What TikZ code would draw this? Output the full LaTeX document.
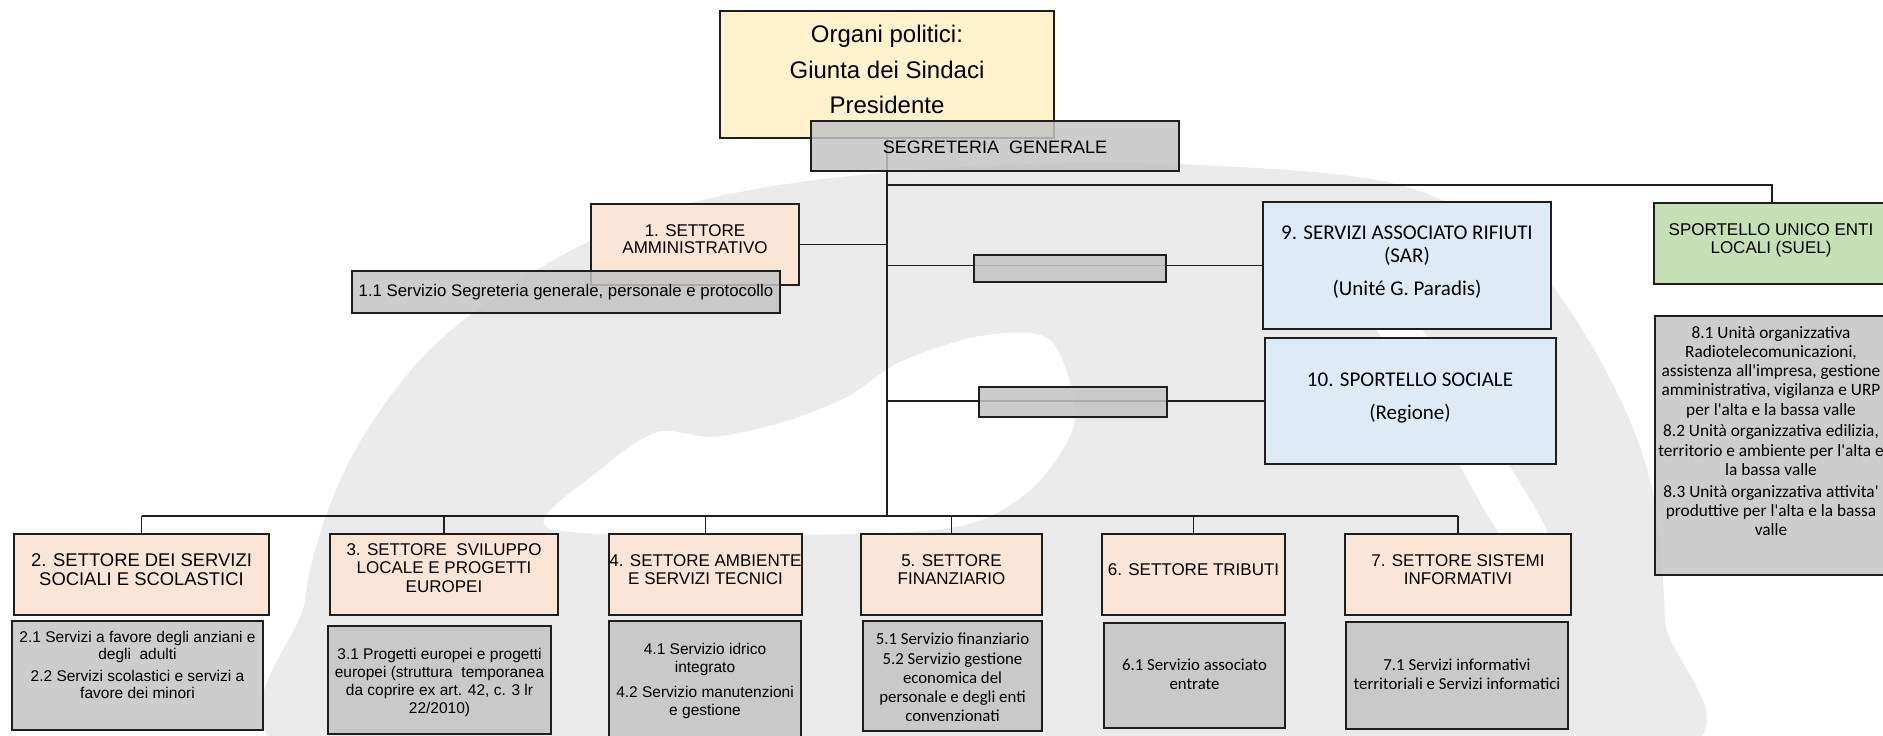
\documentclass[tikz,border=0pt]{standalone}
\usepackage{fontspec}
\setmainfont{Liberation Sans}
\newfontfamily\calib[Ligatures=TeXOff]{Carlito}
\usetikzlibrary{fit}
\pgfdeclarelayer{wm}
\pgfdeclarelayer{bg}
\pgfsetlayers{wm,bg,main}
\definecolor{peach}{RGB}{251,229,214}
\definecolor{ylw}{RGB}{255,242,204}
\definecolor{lblue}{RGB}{222,235,247}
\definecolor{lgreen}{RGB}{197,224,180}
\definecolor{gbox}{RGB}{196,196,196}
\definecolor{wmark}{RGB}{235,235,235}
\definecolor{edge}{RGB}{30,30,30}
\newcommand\fsz[2]{\fontsize{#1}{#2}\selectfont}
\tikzset{
 box/.style={draw=edge, line width=0.8pt, inner sep=0pt, outer sep=0pt},
 pbox/.style={box, fill=peach},
 gbx/.style={box, fill=gbox, fill opacity=0.85},
 conn/.style={draw=edge, line width=0.7pt},
 txt/.style={inner sep=0pt, align=center, text=black},
 head/.style={txt, font=\fsz{8.5}{9.25}},
 subA/.style={txt, font=\fsz{7.75}{8.6}},
 subC/.style={txt, font=\calib\fsz{8.4}{9.6}},
}
\begin{document}
\begin{tikzpicture}[x=0.5pt,y=-0.5pt]
\clip (0,0) rectangle (1883,735);

% watermark
\begin{pgfonlayer}{wm}
\fill[wmark] plot[smooth cycle, tension=0.55] coordinates {(310,760) (305,600) (345,470) (420,360) (520,280) (650,215) (800,182) (1000,165) (1200,165) (1400,185) (1520,250) (1600,360) (1650,480) (1665,620) (1660,760) (1000,790)};
\fill[white] plot[smooth cycle, tension=0.5] coordinates {(548,528) (600,470) (657,432) (713,437) (780,423) (847,397) (900,362) (980,336) (1050,340) (1075,420) (1030,490) (950,528) (750,535)};
\fill[white] plot[smooth cycle, tension=0.5] coordinates {(1372,318) (1415,322) (1480,420) (1548,535) (1505,540) (1440,430)};
\end{pgfonlayer}

% top
\node[box, fill=ylw, fit={(720,11) (1054,138)}] (org) {};
\node[txt, font=\fsz{12}{17.75}] (org-t) at (887,69.5) {Organi politici:\\Giunta dei Sindaci\\Presidente};
\node[gbx, fit={(811,121) (1179,171)}] (seg) {};
\node[txt, font=\fsz{9}{10}] (seg-t) at (995,147) {SEGRETERIA\ \ GENERALE};

% settore 1
\node[pbox, fit={(591,204) (799,285)}] (s1) {};
\node[head, font=\fsz{8.5}{8.7}] (s1-t) at (695,239) {1. SETTORE\\AMMINISTRATIVO};
\node[gbx, fit={(352,271) (780,313)}] (g1) {};
\node[txt, font=\fsz{8.4}{9}] (g1-t) at (566,292) {1.1 Servizio Segreteria generale, personale e protocollo};

% 9 and 10
\node[gbx, fit={(974,255) (1166,282)}] (g9a) {};
\node[gbx, fit={(979,387) (1167,417)}] (g10a) {};
\node[box, fill=lblue, fit={(1263,202) (1551,329)}] (b9) {};
\node[txt, font=\calib\fsz{10.5}{11.3}] (b9-t) at (1407,262) {9. SERVIZI ASSOCIATO RIFIUTI\\(SAR)\\[5.2pt](Unité G. Paradis)};
\node[box, fill=lblue, fit={(1265,338) (1556,464)}] (b10) {};
\node[txt, font=\calib\fsz{10.5}{11.3}] (b10-t) at (1410,398) {10. SPORTELLO SOCIALE\\[5.2pt](Regione)};

% SUEL
\node[box, fill=lgreen, fit={(1654,203) (1890,284)}] (suel) {};
\node[txt, font=\fsz{8.5}{9.15}] (suel-t) at (1771,240) {SPORTELLO UNICO ENTI\\LOCALI (SUEL)};
\node[gbx, fit={(1655,316) (1890,575)}] (g8) {};
\node[txt, font=\calib\fsz{8.65}{9.6}] (g8-t) at (1771,431) {8.1 Unità organizzativa\\Radiotelecomunicazioni,\\assistenza all'impresa, gestione\\amministrativa, vigilanza e URP\\per l'alta e la bassa valle\\[1.3pt]8.2 Unità organizzativa edilizia,\\territorio e ambiente per l'alta e\\la bassa valle\\[1.3pt]8.3 Unità organizzativa attivita'\\produttive per l'alta e la bassa\\valle};

% bottom row headings
\node[pbox, fit={(14,534) (269,615)}] (s2) {};
\node[head, font=\fsz{9.2}{9.4}] (s2-t) at (141.5,569.5) {2. SETTORE DEI SERVIZI\\SOCIALI E SCOLASTICI};
\node[pbox, fit={(330,534) (558,615)}] (s3) {};
\node[head] (s3-t) at (444,568) {3. SETTORE\ \ SVILUPPO\\LOCALE E PROGETTI\\EUROPEI};
\node[pbox, fit={(609,534) (802,615)}] (s4) {};
\node[head] (s4-t) at (705.5,569.5) {4. SETTORE AMBIENTE\\E SERVIZI TECNICI};
\node[pbox, fit={(861,534) (1042,615)}] (s5) {};
\node[head] (s5-t) at (951.5,569.5) {5. SETTORE\\FINANZIARIO};
\node[pbox, fit={(1102,534) (1285,615)}] (s6) {};
\node[head] (s6-t) at (1193.5,570) {6. SETTORE TRIBUTI};
\node[pbox, fit={(1345,534) (1571,615)}] (s7) {};
\node[head] (s7-t) at (1458,569.5) {7. SETTORE SISTEMI\\INFORMATIVI};

% bottom row sub-boxes
\node[gbx, fit={(12,621) (263,730)}] (g2) {};
\node[subA, font=\fsz{7.75}{8.4}] (g2-t) at (137.5,665) {2.1 Servizi a favore degli anziani e\\degli\ \ adulti\\[2.4pt]2.2 Servizi scolastici e servizi a\\favore dei minori};
\node[gbx, fit={(328,626) (551,734)}] (g3) {};
\node[subA, font=\fsz{7.75}{9}] (g3-t) at (439.5,682.5) {3.1 Progetti europei e progetti\\europei (struttura\ \ temporanea\\da coprire ex art. 42, c. 3 lr\\22/2010)};
\node[gbx, fit={(609,621) (801,740)}] (g4) {};
\node[subA, font=\fsz{7.75}{9}] (g4-t) at (705,681) {4.1 Servizio idrico\\integrato\\[3.5pt]4.2 Servizio manutenzioni\\e gestione};
\node[gbx, fit={(863,621) (1042,731)}] (g5) {};
\node[subC] (g5-t) at (952.5,677.5) {5.1 Servizio finanziario\\5.2 Servizio gestione\\economica del\\personale e degli enti\\convenzionati};
\node[gbx, fit={(1104,623) (1285,728)}] (g6) {};
\node[subC] (g6-t) at (1194.5,674.5) {6.1 Servizio associato\\entrate};
\node[gbx, fit={(1346,622) (1568,729)}] (g7) {};
\node[subC] (g7-t) at (1457,674.5) {7.1 Servizi informativi\\territoriali e Servizi informatici};

% connectors
\coordinate (bus) at (887,516);
\coordinate (jn) at (887,185);
\begin{pgfonlayer}{bg}
\draw[conn] (org.south) -- (bus);
\draw[conn] (jn) -| (suel.north);
\draw[conn] (s1.east) -- (s1.east -| bus);
\draw[conn] (b9.west) -- (b9.west -| bus);
\draw[conn] (b10.west) -- (b10.west -| bus);
\draw[conn] (s2.north |- bus) -- (s7.north |- bus);
\foreach \n in {s2,s3,s4,s5,s6,s7} \draw[conn] (\n.north) -- (\n.north |- bus);
\end{pgfonlayer}
\end{tikzpicture}
\end{document}
